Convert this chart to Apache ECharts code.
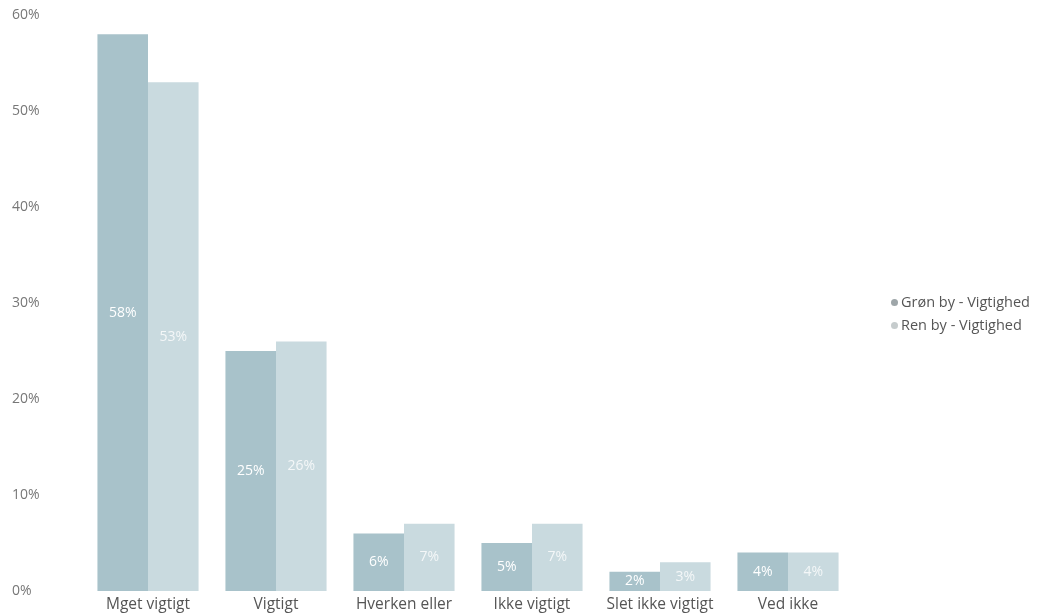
<!DOCTYPE html>
<html><head><meta charset="utf-8">
<script src="https://cdn.jsdelivr.net/npm/echarts@6/dist/echarts.min.js"></script>
<style>html,body{margin:0;padding:0;background:#fff}#c{width:1039px;height:616px}</style>
</head><body><div id="c"></div>
<script>
const categories = ["Mget vigtigt","Vigtigt","Hverken eller","Ikke vigtigt","Slet ikke vigtigt","Ved ikke"];
const seriesNames = ["Grøn by - Vigtighed","Ren by - Vigtighed"];
const gronBy = [58,25,6,5,2,4];
const renBy = [53,26,7,7,3,4];
const yTicks = [0,10,20,30,40,50,60];

const font = "'Open Sans', 'Noto Sans', sans-serif";
const chart = echarts.init(document.getElementById('c'));
chart.setOption({
  animation:false,
  textStyle:{fontFamily:font},
  grid:{left:84,right:187,top:15,bottom:25},
  legend:{
    orient:'vertical', left:886, top:290, itemWidth:7, itemHeight:7, itemGap:8,
    icon:'circle',
    textStyle:{color:'#555',fontSize:14.5,fontFamily:font,padding:[0,0,0,-2]},
    data:[{name:seriesNames[0],itemStyle:{color:'#9ea6a9'}},{name:seriesNames[1],itemStyle:{color:'#c6cccd'}}]
  },
  xAxis:{type:'category',data:categories,
    axisLine:{show:false},axisTick:{show:false},
    axisLabel:{color:'#555',fontSize:15.5,margin:6,fontFamily:font,interval:0}},
  yAxis:{type:'value',min:yTicks[0],max:yTicks[yTicks.length-1],interval:10,
    splitLine:{show:false},
    axisLabel:{color:'#777',fontSize:14,align:'left',margin:72,fontFamily:font,formatter:v=>v+'%'}},
  series:[
    {name:seriesNames[0],type:'bar',data:gronBy,barGap:'0%',barCategoryGap:'21%',
     itemStyle:{color:'#a8c2ca'},
     label:{show:true,position:'inside',color:'#fff',fontSize:14,fontFamily:font,formatter:p=>p.value+'%'}},
    {name:seriesNames[1],type:'bar',data:renBy,
     itemStyle:{color:'#c9dadf'},
     label:{show:true,position:'inside',color:'#f4f7f8',fontSize:14,fontFamily:font,formatter:p=>p.value+'%'}}
  ]
});
</script></body></html>
